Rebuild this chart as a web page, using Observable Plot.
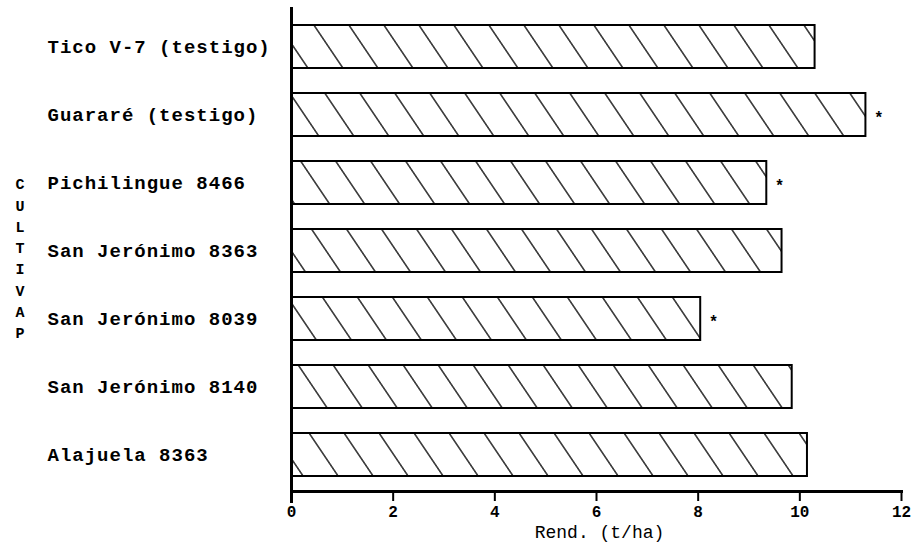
<!DOCTYPE html>
<html>
<head>
<meta charset="utf-8">
<script src="https://cdn.jsdelivr.net/npm/d3@7"></script>
<script src="https://cdn.jsdelivr.net/npm/@observablehq/plot@0.6"></script>
<style>
  html, body { margin: 0; padding: 0; background: #fff; }
  g[aria-label="y-axis tick label"] text { letter-spacing: 1px; }
  g[aria-label="x-title"] text { letter-spacing: 1px; }
</style>
</head>
<body>
<div id="chart"></div>
<script>
const cultivars = [
  "Tico V-7 (testigo)",
  "Guararé (testigo)",
  "Pichilingue 8466",
  "San Jerónimo 8363",
  "San Jerónimo 8039",
  "San Jerónimo 8140",
  "Alajuela 8363"
];
const yields = [10.3, 11.3, 9.35, 9.65, 8.05, 9.85, 10.15];
const significant = [false, true, true, false, true, false, false];
const xTicks = [0, 2, 4, 6, 8, 10, 12];
const xLabel = "Rend. (t/ha)";
const yLabel = "CULTIVAP";

const rows = cultivars.map((c, i) => ({cultivar: c, value: yields[i], sig: significant[i]}));

const monoFont = "'Courier New', 'Liberation Mono', 'DejaVu Sans Mono', monospace";

const chart = Plot.plot({
  width: 923,
  height: 546,
  marginLeft: 291,
  marginRight: 22,
  marginTop: 10,
  marginBottom: 55,
  style: {background: "#fff", color: "#000"},
  x: {domain: [0, 12]},
  y: {domain: cultivars, paddingInner: 0.37, paddingOuter: 0.2},
  marks: [
    Plot.barX(rows, {
      x: "value", y: "cultivar",
      fill: "url(#hatch)", stroke: "black", strokeWidth: 2
    }),
    Plot.text(rows.filter(d => d.sig), {
      x: "value", y: "cultivar", text: () => "*",
      textAnchor: "start", dx: 8, dy: 3,
      fontSize: 16, fontWeight: "bold", fontFamily: monoFont
    }),
    Plot.ruleX([0], {stroke: "black", strokeWidth: 3, insetTop: -3, insetBottom: -12}),
    Plot.frame({anchor: "bottom", stroke: "black", strokeWidth: 3}),
    Plot.axisX({
      ticks: xTicks, tickSize: 10, tickPadding: 4, strokeWidth: 2,
      label: null, fontSize: 16, fontWeight: "bold", fontFamily: monoFont
    }),
    Plot.axisY({
      tickSize: 0, textAnchor: "start", dx: -244, tickPadding: 0,
      label: null, fontSize: 19, fontWeight: "bold", fontFamily: monoFont
    }),
    Plot.text([xLabel], {
      ariaLabel: "x-title",
      frameAnchor: "bottom", dy: 46, dx: 3, fontSize: 18,
      fontFamily: monoFont
    }),
    Plot.text([yLabel.split("").join("\n")], {
      frameAnchor: "left", dx: -276, dy: 6, lineHeight: 1.42,
      fontSize: 15, fontWeight: "bold", fontFamily: monoFont
    })
  ]
});

const svgNode = chart.tagName.toLowerCase() === "svg" ? chart : chart.querySelector("svg");
d3.select(svgNode).insert("defs", ":first-child").html(
  `<pattern id="hatch" patternUnits="userSpaceOnUse" width="35" height="60" patternTransform="skewX(34)">
     <rect width="35" height="60" fill="white"></rect>
     <line x1="17" y1="-1" x2="17" y2="61" stroke="black" stroke-width="1.5"></line>
   </pattern>`
);

document.getElementById("chart").appendChild(chart);
</script>
</body>
</html>
